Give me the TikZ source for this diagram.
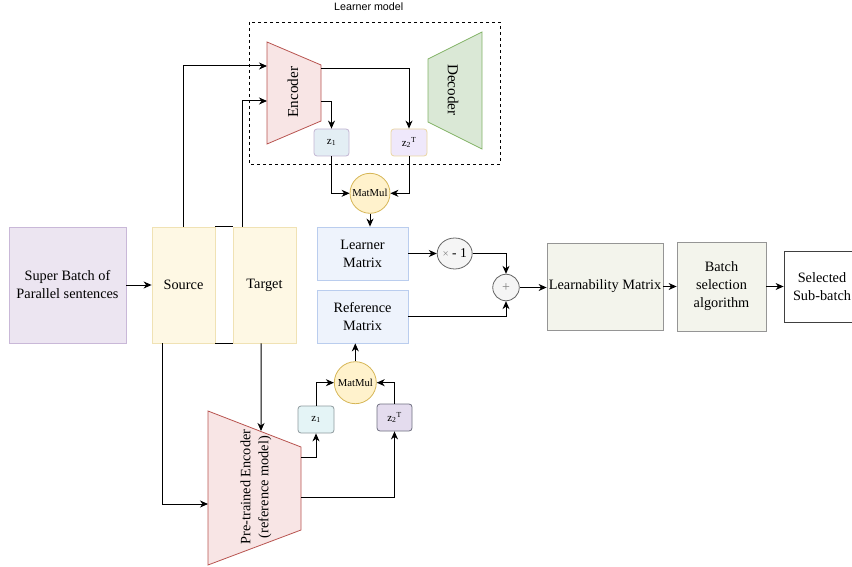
\documentclass[tikz,border=0pt]{standalone}
\usepackage{fontspec}
\setmainfont{Liberation Serif}
\newfontfamily\lsans{Liberation Sans}
\usetikzlibrary{arrows.meta,shapes.geometric}
\definecolor{sbFill}{HTML}{ECE5F1}
\definecolor{sbLine}{HTML}{C9B8D8}
\definecolor{stFill}{HTML}{FEF8E4}
\definecolor{stLine}{HTML}{F0E2B4}
\definecolor{mxFill}{HTML}{EEF3FC}
\definecolor{mxLine}{HTML}{BACDEE}
\definecolor{encFill}{HTML}{F8E5E5}
\definecolor{encLine}{HTML}{B85450}
\definecolor{decFill}{HTML}{DAE8D6}
\definecolor{decLine}{HTML}{82B366}
\definecolor{zaFill}{HTML}{E3EEF4}
\definecolor{zaLine}{HTML}{C3B5D2}
\definecolor{zbFill}{HTML}{EFE8FB}
\definecolor{zbLine}{HTML}{EAD6A2}
\definecolor{mmFill}{HTML}{FFF2CC}
\definecolor{mmLine}{HTML}{D6B656}
\definecolor{opFill}{HTML}{F5F5F5}
\definecolor{opLine}{HTML}{666666}
\definecolor{lmFill}{HTML}{F3F4EC}
\definecolor{lmLine}{HTML}{959595}
\definecolor{zcFill}{HTML}{E4F4F6}
\definecolor{zcLine}{HTML}{8E9A9E}
\definecolor{zdFill}{HTML}{E4DCEE}
\definecolor{zdLine}{HTML}{6E6E80}
\begin{document}
\begin{tikzpicture}[x=1pt,y=-1pt,
  every node/.style={font=\fontsize{14.3}{18}\selectfont, align=center, inner sep=0pt},
  conn/.style={draw=black, line width=1pt, -{Stealth[length=8pt,width=7pt,inset=2.5pt]}},
  boxbase/.style={draw, line width=0.8pt, rectangle},
  zbox/.style={boxbase, rounded corners=3pt, font=\fontsize{11}{13}\selectfont},
  mmnode/.style={circle, draw=mmLine, fill=mmFill, line width=0.8pt, minimum size=#1, font=\fontsize{10.7}{12}\selectfont},
]
\useasboundingbox (0,0) rectangle (852,567);

% learner model frame
\draw[dashed, line width=0.8pt] (249,22) rectangle (500,164);
\node[font=\lsans\fontsize{10.7}{12}\selectfont] (lmlabel) at (368.7,7) {Learner model};

% left boxes
\node[boxbase, draw=sbLine, fill=sbFill, minimum width=117pt, minimum height=116pt] (batch) at (67.5,285) {Super Batch of\\Parallel sentences};
\node[boxbase, draw=stLine, fill=stFill, minimum width=63pt, minimum height=116pt] (src) at (183.5,285) {Source};
\node[boxbase, draw=stLine, fill=stFill, minimum width=63pt, minimum height=116pt] (tgt) at (264.5,285) {Target};
\draw[line width=1pt] (src.north east) -- (tgt.north west);
\draw[line width=1pt] (src.south east) -- (tgt.south west);

% encoder / decoder
\draw[draw=encLine, fill=encFill, line width=0.8pt] (267,42) -- (321,65) -- (321,121) -- (267,144) -- cycle;
\node[rotate=90, font=\fontsize{15.2}{18}\selectfont] (enc) at (293,92) {Encoder};
\draw[draw=decLine, fill=decFill, line width=0.8pt] (428,59) -- (482,32) -- (482,149) -- (428,122) -- cycle;
\node[rotate=-90, font=\fontsize{15.2}{18}\selectfont] (dec) at (453,90) {Decoder};
\coordinate (encin1) at (267,66);
\coordinate (encin2) at (267,101);
\coordinate (encout1) at (321,69);
\coordinate (encout2) at (321,102);

% top z boxes and matmul
\node[zbox, draw=zaLine, fill=zaFill, minimum width=35pt, minimum height=27pt] (z1) at (331.5,142.5) {z\textsubscript{1}};
\node[zbox, draw=zbLine, fill=zbFill, minimum width=36pt, minimum height=27pt] (z2) at (409,142.5) {z\textsubscript{2}\textsuperscript{T}};
\node[mmnode=40pt] (mm1) at (370,193.3) {MatMul};

% matrices
\node[boxbase, draw=mxLine, fill=mxFill, minimum width=91pt, minimum height=53pt] (lm) at (362.5,253.5) {Learner\\Matrix};
\node[boxbase, draw=mxLine, fill=mxFill, minimum width=91pt, minimum height=53pt] (rm) at (362.5,316.5) {Reference\\Matrix};

% operators
\node[ellipse, draw=opLine, fill=opFill, line width=0.8pt, minimum width=35pt, minimum height=31pt, font=\fontsize{13.5}{16}\selectfont] (neg) at (454.7,253.5) {{\color{gray}\fontsize{11}{12}\selectfont ×} - 1};
\node[circle, draw=opLine, fill=opFill, line width=0.8pt, minimum size=26.5pt, text=gray, font=\fontsize{14}{16}\selectfont] (plus) at (506,287.5) {+};

% right boxes
\node[boxbase, draw=lmLine, fill=lmFill, minimum width=116pt, minimum height=87pt] (learn) at (605,286.5) {Learnability Matrix};
\node[boxbase, draw=lmLine, fill=lmFill, minimum width=89pt, minimum height=89pt] (bsel) at (721.5,286.5) {Batch\\selection\\algorithm};
\node[boxbase, draw=black!75, fill=white, minimum width=76pt, minimum height=71pt, text width=70pt] (sel) at (822,286.5) {Selected\\Sub-batch};

% pre-trained encoder
\draw[draw=encLine, fill=encFill, line width=0.8pt] (208,411) -- (301,447) -- (301,530) -- (208,565) -- cycle;
\node[rotate=90] (pte) at (256,487) {Pre-trained Encoder\\(reference model)};
\coordinate (ptin) at (208,504);
\coordinate (pttop) at (261,431);
\coordinate (ptout1) at (301,457);
\coordinate (ptout2) at (301,497);

% bottom z boxes and matmul
\node[zbox, draw=zcLine, fill=zcFill, minimum width=36pt, minimum height=27pt] (bz1) at (316,419.5) {z\textsubscript{1}};
\node[zbox, draw=zdLine, fill=zdFill, minimum width=35pt, minimum height=27pt] (bz2) at (394.5,417.5) {z\textsubscript{2}\textsuperscript{T}};
\node[mmnode=42pt] (mm2) at (355.3,382.7) {MatMul};

% connectors
\draw[conn] (batch.east) -- (src.west);
\draw[conn] (src.north) |- (encin1);
\draw[conn] ([xshift=9.5pt]tgt.north west) |- (encin2);
\draw[conn] (encout1) -| (z2.north);
\draw[conn] (encout2) -| (z1.north);
\draw[conn] (z1.south) |- (mm1.west);
\draw[conn] (z2.south) |- (mm1.east);
\draw[conn] (mm1.south) -- (mm1.south |- lm.north);
\draw[conn] (lm.east) -- (neg.west);
\draw[conn] (neg.east) -| (plus.north);
\draw[conn] (rm.east) -| (plus.south);
\draw[conn] (plus.east) -- (plus.east -| learn.west);
\draw[conn] (learn.east) -- (bsel.west);
\draw[conn] (bsel.east) -- (sel.west);
\draw[conn] ([xshift=11pt]src.south west) |- (ptin);
\draw[conn] ([xshift=28.5pt]tgt.south west) -- (pttop);
\draw[conn] (ptout1) -| (bz1.south);
\draw[conn] (ptout2) -| (bz2.south);
\draw[conn] (bz1.north) |- (mm2.west);
\draw[conn] (bz2.north) |- (mm2.east);
\draw[conn] (mm2.north) -- (mm2.north |- rm.south);
\end{tikzpicture}
\end{document}
